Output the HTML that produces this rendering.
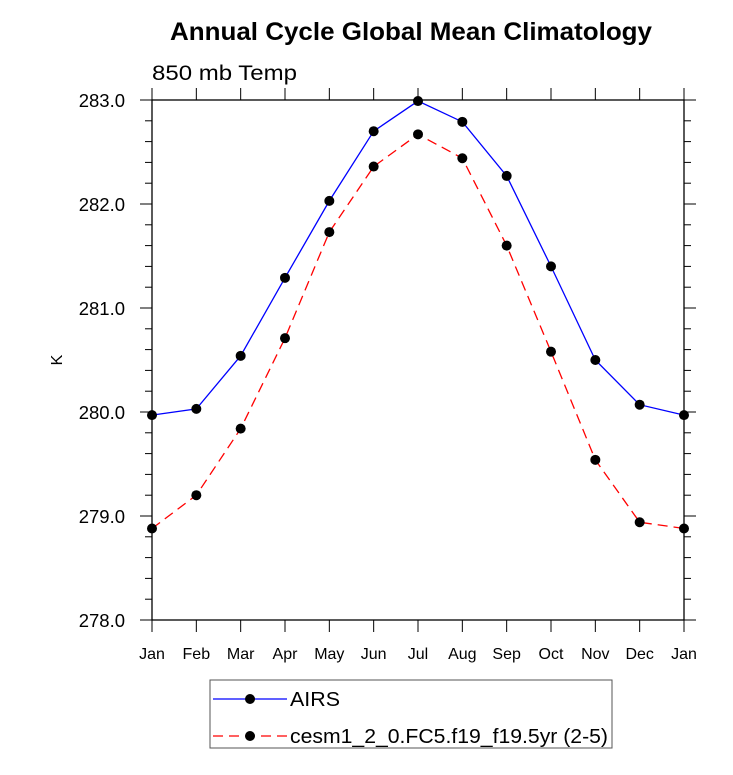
<!DOCTYPE html>
<html><head><meta charset="utf-8"><style>
body{margin:0;background:#fff}
svg{font-family:"Liberation Sans",sans-serif}
</style></head><body>
<svg id="chart" width="733" height="770">
<text x="170" y="40" font-size="25" font-weight="bold" textLength="482" lengthAdjust="spacingAndGlyphs">Annual Cycle Global Mean Climatology</text>
<text x="152" y="80" font-size="21" textLength="145" lengthAdjust="spacingAndGlyphs">850 mb Temp</text>
<text x="62" y="360" font-size="16" text-anchor="middle" transform="rotate(-90 62 360)">K</text>
<g id="axes"></g><g id="series"></g>
<g>
<rect x="210" y="680" width="402" height="68" fill="#fff" stroke="#555" stroke-width="1"/>
<line x1="213" y1="699" x2="287" y2="699" stroke="#00f" stroke-width="1.3"/>
<circle cx="250" cy="699" r="5" fill="#000"/>
<text x="290" y="706" font-size="20" textLength="50" lengthAdjust="spacingAndGlyphs">AIRS</text>
<line x1="213" y1="736" x2="287" y2="736" stroke="#f00" stroke-width="1.3" stroke-dasharray="10,6"/>
<circle cx="250" cy="736" r="5" fill="#000"/>
<text x="290" y="743" font-size="20" textLength="318" lengthAdjust="spacingAndGlyphs">cesm1_2_0.FC5.f19_f19.5yr (2-5)</text>
</g>
</svg>
<script>
const months=["Jan","Feb","Mar","Apr","May","Jun","Jul","Aug","Sep","Oct","Nov","Dec","Jan"];
const airs=[279.97,280.03,280.54,281.29,282.03,282.70,282.99,282.79,282.27,281.40,280.50,280.07,279.97];
const cesm=[278.88,279.20,279.84,280.71,281.73,282.36,282.67,282.44,281.60,280.58,279.54,278.94,278.88];
const yTicks=["278.0","279.0","280.0","281.0","282.0","283.0"];
const L=152,R=684,T=100,B=620,ymin=278,ymax=283;
const NS="http://www.w3.org/2000/svg";
const xs=i=>L+(R-L)*i/(months.length-1);
const ys=v=>B-(v-ymin)/(ymax-ymin)*(B-T);
function mk(t,a,p){const e=document.createElementNS(NS,t);for(const k in a)e.setAttribute(k,a[k]);p.appendChild(e);return e;}
const ax=document.getElementById('axes'),sg=document.getElementById('series');
const box=mk('rect',{x:L,y:T,width:R-L,height:B-T,fill:'none',stroke:'#000','stroke-width':1.3},ax);


for(let v=ymin;v<=ymax+1e-9;v+=0.2){
  const y=ys(v),major=Math.abs(v-Math.round(v))<1e-6,len=major?12:7;
  mk('line',{x1:L-len,y1:y,x2:L,y2:y,stroke:'#000','stroke-width':1},ax);
  mk('line',{x1:R,y1:y,x2:R+len,y2:y,stroke:'#000','stroke-width':1},ax);
}
yTicks.forEach(s=>{const t=mk('text',{x:L-27,y:ys(+s)+7,'font-size':18.5,'text-anchor':'end'},ax);t.textContent=s;

});
months.forEach((m,i)=>{const x=xs(i);
  mk('line',{x1:x,y1:B,x2:x,y2:B+12,stroke:'#000','stroke-width':1},ax);
  mk('line',{x1:x,y1:T-12,x2:x,y2:T,stroke:'#000','stroke-width':1},ax);
  const t=mk('text',{x:x,y:B+39,'font-size':16,'text-anchor':'middle'},ax);t.textContent=m;
  
  });
function series(d,col,dash,name){
  const pl=mk('polyline',{points:d.map((v,i)=>xs(i)+','+ys(v)).join(' '),fill:'none',stroke:col,'stroke-width':1.3,'stroke-dasharray':dash},sg);
  
  
  d.forEach((v,i)=>{const c=mk('circle',{cx:xs(i),cy:ys(v),r:5,fill:'#000'},sg);
    
    });
}
series(airs,'#00f','none','airs');
series(cesm,'#f00','10,6','cesm');
</script>
</body></html>
